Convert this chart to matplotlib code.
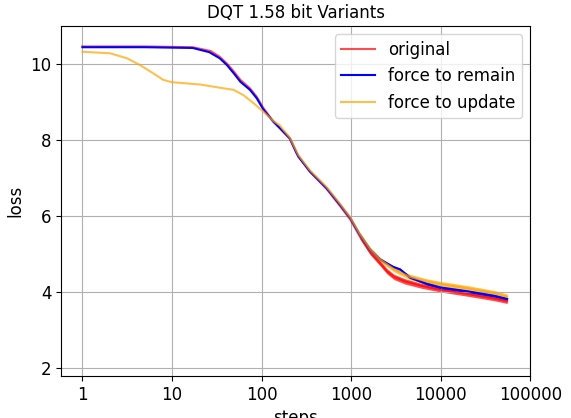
import numpy as np
import matplotlib
matplotlib.use("Agg")
import matplotlib.pyplot as plt

# 读图得到的数据 (steps, loss)
steps_orig = [1, 5, 17, 27, 34, 41, 49, 58, 74, 88, 104, 130, 160, 206, 246, 318, 347,
              532, 752, 980, 1254, 1622, 2100, 2500, 3000, 4000, 6000, 10000, 20000,
              40000, 55000]
loss_orig = [10.46, 10.46, 10.44, 10.34, 10.19, 10.01, 9.80, 9.58, 9.36, 9.14, 8.85,
             8.54, 8.31, 8.03, 7.64, 7.28, 7.16, 6.71, 6.26, 5.90, 5.45, 5.05, 4.76,
             4.55, 4.40, 4.28, 4.17, 4.06, 3.95, 3.83, 3.76]

steps_remain = [1, 5, 17, 26, 34, 41, 49, 58, 74, 88, 104, 135, 160, 207, 257, 347,
                532, 752, 980, 1254, 1622, 2100, 2960, 3500, 4550, 6960, 10000, 20000,
                40000, 55000]
loss_remain = [10.44, 10.44, 10.42, 10.31, 10.15, 9.97, 9.75, 9.53, 9.32, 9.10, 8.81,
               8.48, 8.31, 8.04, 7.56, 7.17, 6.73, 6.29, 5.94, 5.50, 5.12, 4.86, 4.66,
               4.60, 4.38, 4.22, 4.12, 4.02, 3.90, 3.82]

steps_update = [1, 2.04, 3.13, 4.4, 6.2, 8.0, 10, 20.5, 37.5, 48.5, 62.6, 81, 104, 135,
                161, 170, 207, 257, 347, 532, 752, 980, 1254, 1622, 2100, 3000, 4500,
                7000, 10000, 20000, 40000, 55000]
loss_update = [10.32, 10.28, 10.15, 9.97, 9.75, 9.58, 9.52, 9.46, 9.36, 9.32, 9.18,
               8.97, 8.75, 8.50, 8.38, 8.30, 8.06, 7.60, 7.20, 6.76, 6.32, 5.96, 5.52,
               5.13, 4.86, 4.60, 4.40, 4.28, 4.21, 4.10, 3.97, 3.88]

# 噪声带的半宽, 从1000步开始
band_steps = [1000, 2000, 4000, 10000, 30000, 55000]
band_orig = [0.05, 0.07, 0.07, 0.06, 0.06, 0.06]
band_remain = [0.02, 0.03, 0.03, 0.03, 0.03, 0.03]
band_update = [0.05, 0.06, 0.07, 0.07, 0.07, 0.07]


def draw(ax, s, l, band, color, alpha, label):
    ax.plot(s, l, color=color, alpha=alpha, label=label)
    s = np.array(s)
    l = np.array(l)
    m = s >= band_steps[0]
    w = np.interp(np.log10(s[m]), np.log10(band_steps), band)
    ax.fill_between(s[m], l[m] - w, l[m] + w, color=color, alpha=alpha, lw=0)


fig = plt.figure(figsize=(5.71, 4.18), dpi=100)
ax = fig.add_axes([0.107, 0.101, 0.822, 0.837])

draw(ax, steps_orig, loss_orig, band_orig, "red", 0.7, "original")
draw(ax, steps_remain, loss_remain, band_remain, "blue", 1.0, "force to remain")
draw(ax, steps_update, loss_update, band_update, "orange", 0.7, "force to update")

ax.set_xscale("log")
ax.set_xlim(0.578, 100000)
ax.set_ylim(1.8, 11)
ax.set_xticks([1, 10, 100, 1000, 10000, 100000])
ax.set_xticklabels(["1", "10", "100", "1000", "10000", "100000"])
ax.xaxis.set_minor_locator(matplotlib.ticker.NullLocator())
ax.set_yticks([2, 4, 6, 8, 10])
ax.tick_params(labelsize=12)
ax.grid(True)

ax.set_title("DQT 1.58 bit Variants", fontsize=12)
ax.set_xlabel("steps", fontsize=12)
ax.set_ylabel("loss", fontsize=12)
ax.legend(loc="upper right", fontsize=12)

fig.savefig("out.png", dpi=100)
